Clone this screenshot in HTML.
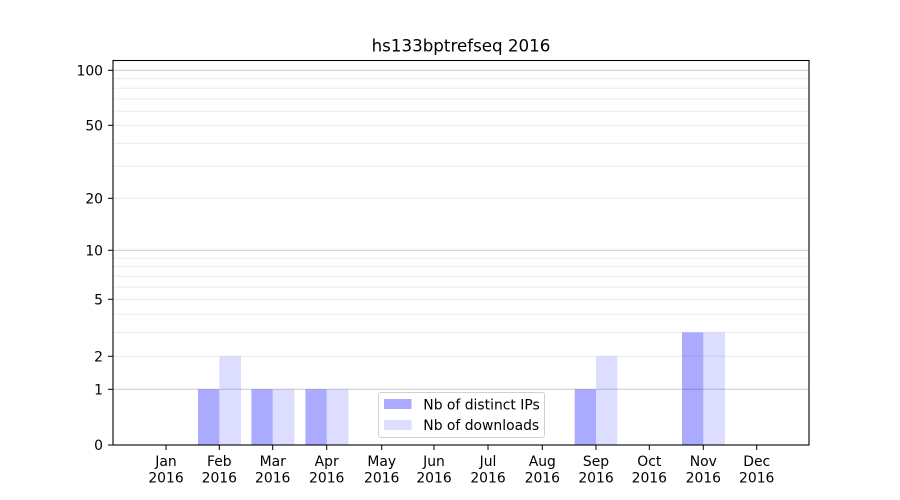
<!DOCTYPE html>
<html><head><meta charset="utf-8"><style>
html,body{margin:0;padding:0;background:#fff;}
svg{display:block;}
text{font-family:"DejaVu Sans","Liberation Sans",sans-serif;fill:#000;}
</style></head><body>
<svg width="900" height="500" viewBox="0 0 900 500" xmlns="http://www.w3.org/2000/svg">
<rect width="900" height="500" fill="#fff"/>
<!-- minor grid -->
<g stroke="#ebebeb" stroke-width="1">
<line x1="113" x2="809" y1="356.3" y2="356.3"/>
<line x1="113" x2="809" y1="332.4" y2="332.4"/>
<line x1="113" x2="809" y1="314.3" y2="314.3"/>
<line x1="113" x2="809" y1="299.3" y2="299.3"/>
<line x1="113" x2="809" y1="287.1" y2="287.1"/>
<line x1="113" x2="809" y1="276.3" y2="276.3"/>
<line x1="113" x2="809" y1="266.6" y2="266.6"/>
<line x1="113" x2="809" y1="258.3" y2="258.3"/>
<line x1="113" x2="809" y1="198.3" y2="198.3"/>
<line x1="113" x2="809" y1="166.2" y2="166.2"/>
<line x1="113" x2="809" y1="143.4" y2="143.4"/>
<line x1="113" x2="809" y1="125.3" y2="125.3"/>
<line x1="113" x2="809" y1="111.2" y2="111.2"/>
<line x1="113" x2="809" y1="98.9" y2="98.9"/>
<line x1="113" x2="809" y1="88.3" y2="88.3"/>
<line x1="113" x2="809" y1="78.6" y2="78.6"/>
</g>
<!-- major grid -->
<g stroke="#cccccc" stroke-width="1">
<line x1="113" x2="809" y1="389.3" y2="389.3"/>
<line x1="113" x2="809" y1="250.3" y2="250.3"/>
<line x1="113" x2="809" y1="70.3" y2="70.3"/>
</g>
<!-- bars -->
<g fill="rgba(0,0,255,0.333)">
<rect x="198" y="389.3" width="21.3" height="55.7"/>
<rect x="251.4" y="389.3" width="21.3" height="55.7"/>
<rect x="305.4" y="389.3" width="21.3" height="55.7"/>
<rect x="574.7" y="389.3" width="21.3" height="55.7"/>
<rect x="682" y="332.4" width="21.3" height="112.6"/>
</g>
<g fill="rgba(0,0,255,0.133)">
<rect x="219.3" y="356.3" width="21.7" height="88.7"/>
<rect x="272.7" y="389.3" width="21.7" height="55.7"/>
<rect x="326.7" y="389.3" width="21.7" height="55.7"/>
<rect x="596" y="356.3" width="21.3" height="88.7"/>
<rect x="703.3" y="332.4" width="21.7" height="112.6"/>
</g>
<!-- spines -->
<rect x="113" y="60.5" width="696" height="384.5" fill="none" stroke="#000" stroke-width="1.1"/>
<!-- y ticks -->
<g stroke="#000" stroke-width="1">
<line x1="108" x2="113" y1="445" y2="445"/>
<line x1="108" x2="113" y1="389.3" y2="389.3"/>
<line x1="108" x2="113" y1="356.3" y2="356.3"/>
<line x1="108" x2="113" y1="299.3" y2="299.3"/>
<line x1="108" x2="113" y1="250.3" y2="250.3"/>
<line x1="108" x2="113" y1="198.3" y2="198.3"/>
<line x1="108" x2="113" y1="125.3" y2="125.3"/>
<line x1="108" x2="113" y1="70.3" y2="70.3"/>
</g>
<g font-size="13.9" text-anchor="end">
<text x="103" y="450">0</text>
<text x="103" y="394.3">1</text>
<text x="103" y="361.3">2</text>
<text x="103" y="304.3">5</text>
<text x="103" y="255.3">10</text>
<text x="103" y="203.3">20</text>
<text x="103" y="130.3">50</text>
<text x="103" y="75.3">100</text>
</g>
<!-- x ticks -->
<g stroke="#000" stroke-width="1">
<line x1="166" x2="166" y1="445" y2="450"/>
<line x1="219.3" x2="219.3" y1="445" y2="450"/>
<line x1="272.7" x2="272.7" y1="445" y2="450"/>
<line x1="326.7" x2="326.7" y1="445" y2="450"/>
<line x1="381.7" x2="381.7" y1="445" y2="450"/>
<line x1="434" x2="434" y1="445" y2="450"/>
<line x1="488" x2="488" y1="445" y2="450"/>
<line x1="542.3" x2="542.3" y1="445" y2="450"/>
<line x1="596" x2="596" y1="445" y2="450"/>
<line x1="649.3" x2="649.3" y1="445" y2="450"/>
<line x1="703.3" x2="703.3" y1="445" y2="450"/>
<line x1="756.7" x2="756.7" y1="445" y2="450"/>
</g>
<g font-size="13.9" text-anchor="middle">
<text x="166" y="466">Jan</text><text x="166" y="482.7">2016</text>
<text x="219.3" y="466">Feb</text><text x="219.3" y="482.7">2016</text>
<text x="272.7" y="466">Mar</text><text x="272.7" y="482.7">2016</text>
<text x="326.7" y="466">Apr</text><text x="326.7" y="482.7">2016</text>
<text x="381.7" y="466">May</text><text x="381.7" y="482.7">2016</text>
<text x="434" y="466">Jun</text><text x="434" y="482.7">2016</text>
<text x="488" y="466">Jul</text><text x="488" y="482.7">2016</text>
<text x="542.3" y="466">Aug</text><text x="542.3" y="482.7">2016</text>
<text x="596" y="466">Sep</text><text x="596" y="482.7">2016</text>
<text x="649.3" y="466">Oct</text><text x="649.3" y="482.7">2016</text>
<text x="703.3" y="466">Nov</text><text x="703.3" y="482.7">2016</text>
<text x="756.7" y="466">Dec</text><text x="756.7" y="482.7">2016</text>
</g>
<!-- title -->
<text x="461" y="51.5" font-size="16.7" text-anchor="middle">hs133bptrefseq 2016</text>
<!-- legend -->
<rect x="378.5" y="392.5" width="166" height="45" rx="2.5" fill="rgba(255,255,255,0.8)" stroke="#d0d0d0" stroke-width="1"/>
<rect x="384" y="399" width="27.5" height="10" fill="#aaaaff"/>
<rect x="384" y="420" width="27.5" height="10" fill="#ddddff"/>
<text x="423.3" y="409.3" font-size="13.9">Nb of distinct IPs</text>
<text x="423.3" y="430" font-size="13.9">Nb of downloads</text>
</svg>
</body></html>
